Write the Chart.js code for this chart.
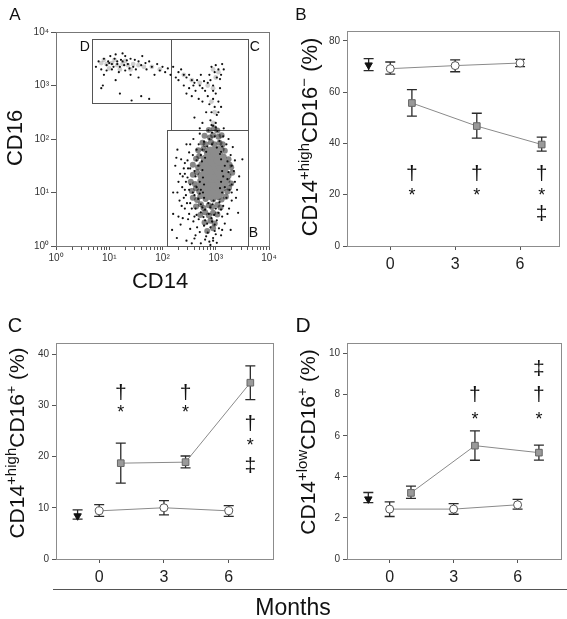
<!DOCTYPE html>
<html>
<head>
<meta charset="utf-8">
<script src="https://cdn.jsdelivr.net/npm/chart.js@4.4.1/dist/chart.umd.min.js"></script>
<style>
  body { margin: 0; background: #fff; }
  #wrap { position: relative; width: 567px; height: 619px; overflow: hidden; font-family: "Liberation Sans", Arial, sans-serif; }
  #wrap canvas { position: absolute; left: 0; top: 0; }
  #rule { position: absolute; left: 53px; top: 589px; width: 514px; border-top: 1px solid #555; }
  #months { position: absolute; left: 0; width: 586px; top: 594px; text-align: center; font-size: 23px; color: #111; }
</style>
</head>
<body>
<div id="wrap">
  <canvas id="panelA" width="567" height="619"></canvas>
  <canvas id="panelB" width="567" height="619"></canvas>
  <canvas id="panelC" width="567" height="619"></canvas>
  <canvas id="panelD" width="567" height="619"></canvas>
  <div id="rule"></div>
  <div id="months">Months</div>
</div>
<script>
const FONT = '"Liberation Sans", Arial, sans-serif';

// ---- panel A: flow cytometry dot plot (values are log10 CD14, log10 CD16)
const decadeTicks = [1, 10, 100, 1000, 10000];
const decadeLabels = ['10⁰', '10¹', '10²', '10³', '10⁴'];

const gateB = [120, 4000, 1, 145];     // CD14 from, to, CD16 from, to
const gateC = [144, 4000, 145, 7300];
const gateD = [4.7, 144, 470, 7300];

// dense body of the main population
const blobB = [
  [2.84,0.28],[2.95,0.33],[2.79,0.44],[2.9,0.47],[2.98,0.42],
  [2.71,0.58],[2.8,0.63],[2.87,0.57],[2.95,0.62],[3.03,0.59],
  [2.63,0.74],[2.72,0.78],[2.77,0.71],[2.87,0.76],[2.93,0.73],[3.03,0.77],[3.09,0.72],
  [2.57,0.9],[2.65,0.86],[2.71,0.93],[2.81,0.88],[2.89,0.92],[2.95,0.87],[3.05,0.91],[3.11,0.87],[3.19,0.92],
  [2.55,1.03],[2.63,1.08],[2.69,1.02],[3.13,1.07],[3.22,1.02],[3.25,1.09],
  [2.53,1.2],[2.61,1.16],[2.71,1.22],[3.16,1.18],[3.22,1.23],[3.29,1.17],
  [2.57,1.33],[2.65,1.38],[2.71,1.32],[3.19,1.36],[3.24,1.31],[3.31,1.37],
  [2.57,1.52],[2.67,1.47],[2.73,1.53],[3.17,1.49],[3.26,1.52],[3.29,1.47],
  [2.63,1.63],[2.69,1.68],[2.79,1.64],[3.15,1.67],[3.24,1.62],
  [2.67,1.79],[2.77,1.82],[2.83,1.77],[3.11,1.81],[3.17,1.78],
  [2.75,1.93],[2.81,1.9],[2.91,1.94],[2.97,1.9],[3.07,1.93],[3.13,1.9],
  [2.79,2.06],[2.89,2.03],[2.95,2.07],[3.05,2.04],[3.11,2.07],
  [2.87,2.17],[2.97,2.2],[3.03,2.16]
];
// overplotted centre (grey in the original)
const coreB = [
  [2.8,1.0],[2.92,0.98],[3.04,1.0],
  [2.78,1.15],[2.9,1.15],[3.02,1.15],[3.12,1.18],
  [2.8,1.3],[2.92,1.3],[3.04,1.3],[3.14,1.32],
  [2.82,1.45],[2.94,1.45],[3.06,1.45],[3.14,1.48],
  [2.84,1.6],[2.96,1.6],[3.08,1.62],
  [2.9,1.74],[3.02,1.76]
];
const cloudB = [
  [2.72,0.05],[2.88,0.08],[3.02,0.06],[2.6,0.14],[2.82,0.18],[2.95,0.15],[3.1,0.2],[2.45,0.1],[2.98,0.28],[2.7,0.26],
  [3.06,0.33],[2.52,0.32],[2.9,0.35],[2.78,0.38],[2.84,0.42],[2.93,0.46],[2.68,0.5],[3.02,0.48],[2.77,0.54],[2.97,0.58],
  [2.58,0.46],[3.12,0.55],[2.87,0.6],[2.38,0.52],[2.72,0.63],[3.17,0.42],[2.8,0.48],[2.92,0.52],[3.05,0.62],[2.64,0.58],
  [2.62,0.7],[2.8,0.68],[2.9,0.72],[3.0,0.7],[2.72,0.78],[2.86,0.8],[3.07,0.82],[2.52,0.8],[2.96,0.85],[2.67,0.88],
  [3.14,0.75],[2.42,0.7],[2.78,0.9],[3.2,0.9],[2.32,0.85],[2.6,0.95],[2.75,0.72],[2.94,0.78],[3.1,0.68],[2.7,0.98],
  [2.57,1.0],[2.64,1.1],[2.72,1.05],[2.7,1.2],[3.12,1.0],[3.17,1.1],[3.1,1.2],[3.22,1.25],[2.52,1.15],[2.47,1.28],
  [2.62,1.3],[3.14,1.3],[2.37,1.1],[3.26,1.05],[2.3,1.2],[2.76,1.0],[2.78,1.15],[2.76,1.28],[3.08,1.08],[2.42,1.35],
  [2.6,1.4],[2.67,1.5],[2.64,1.6],[3.12,1.4],[3.17,1.5],[3.1,1.62],[2.52,1.45],[3.22,1.58],[2.72,1.7],[3.08,1.72],
  [2.47,1.6],[3.24,1.38],[2.57,1.7],[2.4,1.45],[3.3,1.5],[2.75,1.42],[2.74,1.58],[2.35,1.62],[2.8,1.65],[2.75,1.8],
  [2.84,1.86],[2.93,1.9],[3.02,1.84],[3.07,1.96],[2.88,2.0],[2.98,2.05],[2.78,1.95],[2.93,2.12],[3.03,2.15],[2.68,1.9],
  [3.12,1.86],[2.86,2.16],[2.64,1.8],[3.14,2.05],[3.1,1.76],[2.82,1.76],[3.0,2.22],[2.92,2.26],[2.2,0.6],[2.24,1.5],
  [2.18,0.3],[2.28,1.8],[2.27,0.15],[3.36,1.2],[3.42,0.62],[3.32,1.85],[3.5,1.62],[2.2,1.0],[2.34,0.4],[3.38,0.9],
  [2.45,1.9],[2.5,0.6],[3.28,0.3],[2.55,0.05],[2.44,0.95],[2.5,1.75],[3.25,0.7],[3.3,1.15],
  [2.4,0.9],[2.44,1.2],[2.38,1.3],[2.48,1.45],[2.42,1.55],[2.5,1.05],[2.46,0.8],[2.36,0.75],[2.52,1.9],[2.58,2.0],
  [2.6,0.55],[2.55,0.7],[2.48,0.5],[3.3,1.0],[3.34,1.4],[3.28,1.7],[3.36,1.6],[3.3,0.85],[3.22,0.6],[3.2,1.9],
  [3.24,2.0],[3.15,2.2],[2.7,2.1],[2.75,2.3],[2.85,0.25],[2.95,0.1],[2.8,0.12],[3.0,0.22],[2.9,0.02],[2.65,0.35],
  [2.62,0.2],[3.12,0.3],[2.98,0.4],[2.42,1.05],[2.33,1.35],[2.28,1.0],[2.3,0.55],[2.26,1.65],[3.44,1.3],[3.4,1.05]
];
const tailC = [
  [2.95,2.25],[3.0,2.3],[2.9,2.35],[3.02,2.45],[2.92,2.5],[2.98,2.6],[2.88,2.65],[3.05,2.7],[2.95,2.75],[2.85,2.8],
  [3.0,2.85],[3.08,2.95],[2.95,3.0],[2.9,3.1],[3.02,3.15],[3.1,3.2],[2.98,3.25],[3.05,3.3],[2.92,3.35],[3.12,3.4],
  [3.15,3.3],[3.0,3.38],[2.8,2.9],[2.75,2.7],[2.82,2.5],[3.1,2.6],[2.6,2.4],[2.7,2.2],[2.88,3.2],[3.08,3.12],
  [2.2,3.35],[2.3,3.25],[2.35,3.3],[2.4,3.2],[2.45,3.15],[2.5,3.2],[2.55,3.1],[2.6,3.05],[2.65,3.1],[2.7,3.0],
  [2.75,2.95],[2.62,2.9],[2.5,2.95],[2.4,3.0],[2.45,2.85],[2.55,2.8],[2.3,3.1],[2.25,3.15],[2.72,3.2],[2.85,3.05],
  [2.68,2.75],[2.78,3.08],[2.58,3.0],[2.95,2.9],[3.05,2.5]
];
const hazeC = [
  [2.95,3.3],[3.05,3.25],[3.0,3.15],[2.95,2.95],[2.92,2.7],[2.98,2.5],[2.95,2.3],[2.7,3.05],[2.55,3.1],[2.4,3.2],[2.85,3.0]
];
const bandD = [
  [0.8,3.45],[0.85,3.3],[0.9,3.5],[0.95,3.38],[1.0,3.42],[1.05,3.3],[1.1,3.5],[1.15,3.4],[1.2,3.35],[1.25,3.45],
  [1.3,3.28],[1.35,3.4],[1.4,3.5],[1.45,3.35],[1.5,3.3],[1.55,3.45],[1.6,3.38],[1.7,3.3],[1.75,3.45],[1.8,3.35],
  [1.9,3.4],[1.95,3.28],[2.0,3.35],[2.05,3.25],[2.1,3.32],[0.75,3.35],[1.02,3.55],[1.18,3.25],[1.3,3.55],[1.62,3.55],
  [0.9,3.2],[1.4,3.2],[1.85,3.2],[1.12,3.1],[1.55,3.15],[0.88,3.0],[1.25,3.6],[1.08,3.35],[1.22,3.48],[1.38,3.32],
  [0.98,3.45],[1.48,3.48],[1.68,3.42],[2.15,3.2],[1.2,2.85],[1.6,2.8],[1.75,2.75],[0.85,2.95],[1.42,2.72],[1.15,3.45],
  [1.05,3.4],[1.28,3.38],[0.95,3.28],[1.33,3.47],[1.12,3.58]
];
const hazeD = [
  [0.85,3.42],[0.95,3.4],[1.05,3.42],[1.15,3.38],[1.25,3.4],[1.35,3.38],[1.45,3.4],[1.55,3.38],[1.0,3.32],
  [1.2,3.3],[1.4,3.3],[0.9,3.48],[1.1,3.48],[1.3,3.46],[1.65,3.35],[1.8,3.35],[1.95,3.3]
];

// ---- panels B-D: mean with error bar, by month
const baseMonth = [-1];
const ctrlMonths = [0, 3, 6];
const treatMonths = [1, 4, 7];
const monthTicks = [0, 3, 6];

const baseB = [70.6], baseBLo = [68.4], baseBHi = [73.1];
const ctrlB = [69.2, 70.4, 71.4], ctrlBLo = [67.1, 68.0, 70.0], ctrlBHi = [71.8, 72.6, 72.8];
const treatB = [55.8, 46.8, 39.6], treatBLo = [50.7, 42.1, 37.0], treatBHi = [61.0, 51.8, 42.5];
const yTicksB = [0, 20, 40, 60, 80];
const sigB = [[1, 28.3, '†'], [1, 21.2, '*'], [4, 28.3, '†'], [4, 21.2, '*'], [7, 28.3, '†'], [7, 21.2, '*'], [7, 12.7, '‡']];

const baseC = [8.4], baseCLo = [7.8], baseCHi = [9.6];
const ctrlC = [9.4, 10.0, 9.4], ctrlCLo = [8.3, 8.6, 8.3], ctrlCHi = [10.6, 11.4, 10.4];
const treatC = [18.7, 18.9, 34.4], treatCLo = [14.8, 17.8, 31.1], treatCHi = [22.6, 20.1, 37.7];
const yTicksC = [0, 10, 20, 30, 40];
const sigC = [[1, 32.5, '†'], [1, 29.3, '*'], [4, 32.5, '†'], [4, 29.3, '*'], [7, 26.5, '†'], [7, 22.9, '*'], [7, 18.3, '‡']];

const baseD = [2.92], baseDLo = [2.75], baseDHi = [3.24];
const ctrlD = [2.43, 2.43, 2.64], ctrlDLo = [2.07, 2.18, 2.43], ctrlDHi = [2.78, 2.7, 2.9];
const treatD = [3.22, 5.52, 5.18], treatDLo = [2.95, 4.81, 4.82], treatDHi = [3.55, 6.24, 5.55];
const yTicksD = [0, 2, 4, 6, 8, 10];
const sigD = [[4, 8.02, '†'], [4, 6.99, '*'], [7, 9.29, '‡'], [7, 8.02, '†'], [7, 6.99, '*']];

Chart.defaults.font.family = FONT;
Chart.defaults.color = '#333';

const pts = (xs, ys) => xs.map((x, i) => ({ x: x, y: ys[i] }));
const logPts = list => list.map(p => ({ x: Math.pow(10, p[0]), y: Math.pow(10, p[1]) }));

// draws mixed-size text (superscripts) centred on baseline point x,y
function drawRich(ctx, segs, x, y, rotate) {
  ctx.save();
  ctx.translate(x, y);
  if (rotate) ctx.rotate(-Math.PI / 2);
  ctx.fillStyle = '#111';
  ctx.textBaseline = 'alphabetic';
  ctx.textAlign = 'left';
  let w = 0;
  segs.forEach(s => { ctx.font = s.size + 'px ' + FONT; w += ctx.measureText(s.t).width; });
  let cx = -w / 2;
  segs.forEach(s => {
    ctx.font = s.size + 'px ' + FONT;
    ctx.fillText(s.t, cx, s.rise ? -s.rise : 0);
    cx += ctx.measureText(s.t).width;
  });
  ctx.restore();
}

function framePlugin(color) {
  return {
    id: 'frame',
    beforeDatasetsDraw(chart) {
      const { ctx, chartArea: a } = chart;
      ctx.save();
      ctx.strokeStyle = color;
      ctx.lineWidth = 1;
      ctx.strokeRect(Math.round(a.left) + 0.5, Math.round(a.top) + 0.5, Math.round(a.right - a.left), Math.round(a.bottom - a.top));
      ctx.restore();
    }
  };
}

function labelsPlugin(items) {
  return {
    id: 'labels',
    afterDraw(chart) {
      items.forEach(it => drawRich(chart.ctx, it.segs, it.x, it.y, it.rotate));
    }
  };
}

const errorBars = {
  id: 'errorBars',
  beforeDatasetsDraw(chart) {
    const { ctx, scales: { x, y } } = chart;
    ctx.save();
    ctx.strokeStyle = '#2a2a2a';
    ctx.lineWidth = 1.3;
    chart.data.datasets.forEach(ds => {
      if (!ds.errLo) return;
      ds.data.forEach((p, i) => {
        const px = x.getPixelForValue(p.x);
        const y1 = y.getPixelForValue(ds.errLo[i]);
        const y2 = y.getPixelForValue(ds.errHi[i]);
        ctx.beginPath();
        ctx.moveTo(px, y1); ctx.lineTo(px, y2);
        ctx.moveTo(px - 5, y1); ctx.lineTo(px + 5, y1);
        ctx.moveTo(px - 5, y2); ctx.lineTo(px + 5, y2);
        ctx.stroke();
      });
    });
    ctx.restore();
  }
};

function sigPlugin(marks) {
  return {
    id: 'sig',
    afterDatasetsDraw(chart) {
      const { ctx, scales: { x, y } } = chart;
      ctx.save();
      ctx.fillStyle = '#111';
      ctx.textAlign = 'center';
      ctx.textBaseline = 'alphabetic';
      marks.forEach(m => {
        ctx.font = (m[2] === '*' ? 18 : 21) + 'px ' + FONT;
        const tm = ctx.measureText(m[2]);
        const off = (tm.actualBoundingBoxAscent - tm.actualBoundingBoxDescent) / 2;
        ctx.fillText(m[2], x.getPixelForValue(m[0]), y.getPixelForValue(m[1]) + off);
      });
      ctx.restore();
    }
  };
}

const tickGrid = { display: true, drawOnChartArea: false, drawTicks: true, tickLength: 4, color: '#555', lineWidth: 1 };

function gatesPlugin() {
  return {
    id: 'gates',
    beforeDatasetsDraw(chart) {
      const { ctx, scales: { x, y } } = chart;
      ctx.save();
      ctx.strokeStyle = '#555';
      ctx.lineWidth = 1;
      [gateB, gateC, gateD].forEach(g => {
        const l = Math.round(x.getPixelForValue(g[0])) + 0.5, r = Math.round(x.getPixelForValue(g[1])) + 0.5;
        const b = Math.round(y.getPixelForValue(g[2])) + 0.5, t = Math.round(y.getPixelForValue(g[3])) + 0.5;
        ctx.strokeRect(l, t, r - l, b - t);
      });
      ctx.fillStyle = '#111';
      ctx.font = '14px ' + FONT;
      ctx.textAlign = 'right';
      ctx.fillText('D', x.getPixelForValue(gateD[0]) - 2, y.getPixelForValue(gateD[3]) + 12);
      ctx.textAlign = 'left';
      ctx.fillText('C', x.getPixelForValue(gateC[1]) + 2, y.getPixelForValue(gateC[3]) + 12);
      ctx.fillText('B', x.getPixelForValue(gateB[1]) + 1, y.getPixelForValue(gateB[2]) - 9);
      ctx.restore();
    }
  };
}

// Panel A
const minorTicks = [];
decadeTicks.slice(0, 4).forEach(d => { for (let k = 1; k < 10; k++) minorTicks.push(d * k); });
minorTicks.push(10000);

new Chart(document.getElementById('panelA'), {
  type: 'scatter',
  data: {
    datasets: [
      { data: logPts(cloudB.concat(tailC, bandD)), pointRadius: 1.1, backgroundColor: '#111', borderWidth: 0 },
      { data: logPts(coreB), pointRadius: 6.5, backgroundColor: '#8c8c8c', borderWidth: 0 },
      { data: logPts(blobB), pointRadius: 3, backgroundColor: 'rgba(15,15,15,0.5)', borderWidth: 0 },
      { data: logPts(hazeC.concat(hazeD)), pointRadius: 2.4, backgroundColor: 'rgba(30,30,30,0.22)', borderWidth: 0 }
    ]
  },
  options: {
    responsive: false, animation: false, events: [],
    layout: { padding: { left: 16, top: 32, right: 298, bottom: 343 } },
    plugins: { legend: { display: false }, tooltip: { enabled: false } },
    scales: {
      x: {
        type: 'logarithmic', min: 1, max: 10000,
        afterFit: s => { s.height = 30; },
        afterBuildTicks: s => { s.ticks = minorTicks.map(v => ({ value: v })); },
        ticks: { autoSkip: false, maxRotation: 0, padding: 2, font: { size: 10 }, color: '#333',
          callback: v => { const i = decadeTicks.indexOf(v); return i >= 0 ? decadeLabels[i] : ''; } },
        grid: tickGrid, border: { display: false }
      },
      y: {
        type: 'logarithmic', min: 1, max: 10000,
        afterFit: s => { s.width = 40; },
        afterBuildTicks: s => { s.ticks = decadeTicks.map(v => ({ value: v })); },
        ticks: { autoSkip: false, padding: 2, font: { size: 10 }, color: '#333',
          callback: v => decadeLabels[decadeTicks.indexOf(v)] },
        grid: Object.assign({}, tickGrid, { tickLength: 5 }), border: { display: false }
      }
    }
  },
  plugins: [framePlugin('#777'), gatesPlugin(), labelsPlugin([
    { segs: [{ t: 'A', size: 17 }], x: 15, y: 20 },
    { segs: [{ t: 'CD16', size: 22 }], x: 22, y: 138, rotate: true },
    { segs: [{ t: 'CD14', size: 22 }], x: 160, y: 288 }
  ])]
});

function makePanel(id, p) {
  new Chart(document.getElementById(id), {
    type: 'line',
    data: {
      datasets: [
        { data: pts(baseMonth, p.base), errLo: p.baseLo, errHi: p.baseHi, showLine: false,
          pointStyle: 'triangle', rotation: 180, pointRadius: 4.3, pointBackgroundColor: '#111', pointBorderColor: '#111', pointBorderWidth: 1 },
        { data: pts(ctrlMonths, p.ctrl), errLo: p.ctrlLo, errHi: p.ctrlHi, borderColor: '#8a8a8a', borderWidth: 1, tension: 0,
          pointStyle: 'circle', pointRadius: 4, pointBackgroundColor: '#fff', pointBorderColor: '#555', pointBorderWidth: 1 },
        { data: pts(treatMonths, p.treat), errLo: p.treatLo, errHi: p.treatHi, borderColor: '#8a8a8a', borderWidth: 1, tension: 0,
          pointStyle: 'rect', pointRadius: 4.7, pointBackgroundColor: '#9a9a9a', pointBorderColor: '#666', pointBorderWidth: 1 }
      ]
    },
    options: {
      responsive: false, animation: false, events: [],
      layout: { padding: p.pad },
      plugins: { legend: { display: false }, tooltip: { enabled: false } },
      scales: {
        x: {
          type: 'linear', min: -2, max: p.xMax,
          afterFit: s => { s.height = 30; },
          afterBuildTicks: s => { s.ticks = monthTicks.map(v => ({ value: v })); },
          ticks: { autoSkip: false, maxRotation: 0, padding: 5, font: { size: 16 }, color: '#222' },
          grid: tickGrid, border: { display: false }
        },
        y: {
          min: 0, max: p.yMax,
          afterFit: s => { s.width = 40; },
          afterBuildTicks: s => { s.ticks = p.yTicks.map(v => ({ value: v })); },
          ticks: { autoSkip: false, padding: 3, font: { size: 10 }, color: '#333' },
          grid: tickGrid, border: { display: false }
        }
      }
    },
    plugins: [framePlugin('#8c8c8c'), errorBars, sigPlugin(p.sig), labelsPlugin(p.labels)]
  });
}

makePanel('panelB', {
  base: baseB, baseLo: baseBLo, baseHi: baseBHi, ctrl: ctrlB, ctrlLo: ctrlBLo, ctrlHi: ctrlBHi,
  treat: treatB, treatLo: treatBLo, treatHi: treatBHi, yTicks: yTicksB, sig: sigB,
  xMax: 7.8, yMax: 83.9, pad: { left: 307, top: 31, right: 8, bottom: 343 },
  labels: [
    { segs: [{ t: 'B', size: 17 }], x: 301, y: 20 },
    { segs: [{ t: 'CD14', size: 22 }, { t: '+high', size: 15, rise: 8 }, { t: 'CD16', size: 22 }, { t: '−', size: 15, rise: 8 }, { t: ' (%)', size: 22 }], x: 317, y: 137, rotate: true }
  ]
});

makePanel('panelC', {
  base: baseC, baseLo: baseCLo, baseHi: baseCHi, ctrl: ctrlC, ctrlLo: ctrlCLo, ctrlHi: ctrlCHi,
  treat: treatC, treatLo: treatCLo, treatHi: treatCHi, yTicks: yTicksC, sig: sigC,
  xMax: 8.05, yMax: 42.15, pad: { left: 16, top: 343, right: 294, bottom: 30 },
  labels: [
    { segs: [{ t: 'C', size: 20 }], x: 15, y: 332 },
    { segs: [{ t: 'CD14', size: 21 }, { t: '+high', size: 15, rise: 8 }, { t: 'CD16', size: 21 }, { t: '+', size: 14, rise: 8 }, { t: ' (%)', size: 21 }], x: 24, y: 443, rotate: true }
  ]
});

makePanel('panelD', {
  base: baseD, baseLo: baseDLo, baseHi: baseDHi, ctrl: ctrlD, ctrlLo: ctrlDLo, ctrlHi: ctrlDHi,
  treat: treatD, treatLo: treatDLo, treatHi: treatDHi, yTicks: yTicksD, sig: sigD,
  xMax: 8.05, yMax: 10.52, pad: { left: 307, top: 343, right: 3, bottom: 30 },
  labels: [
    { segs: [{ t: 'D', size: 21 }], x: 303, y: 332 },
    { segs: [{ t: 'CD14', size: 21 }, { t: '+low', size: 15, rise: 8 }, { t: 'CD16', size: 21 }, { t: '+', size: 14, rise: 8 }, { t: ' (%)', size: 21 }], x: 315, y: 442, rotate: true }
  ]
});
</script>
</body>
</html>
